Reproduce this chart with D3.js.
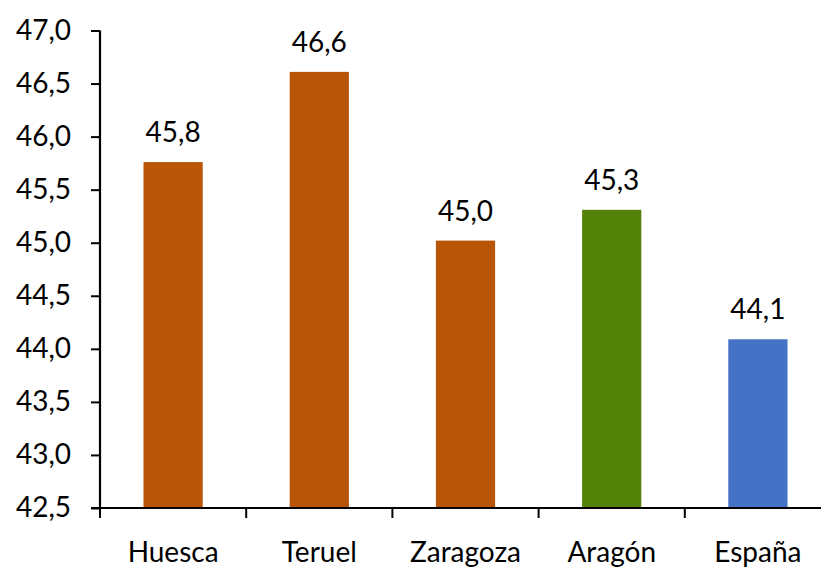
<!DOCTYPE html>
<html>
<head>
<meta charset="utf-8">
<script src="https://cdn.jsdelivr.net/npm/d3@7"></script>
<style>
  body { margin: 0; background: #fff; }
  svg text { font-family: Lato, "Open Sans", sans-serif; fill: #000; }
</style>
</head>
<body>
<div id="chart"></div>
<script>
// data
var categories = ["Huesca", "Teruel", "Zaragoza", "Aragón", "España"];
var values = [45.76, 46.61, 45.02, 45.31, 44.09];
var labels = ["45,8", "46,6", "45,0", "45,3", "44,1"];
var barColors = ["#B85506", "#B85506", "#B85506", "#548209", "#4472C4"];
var yTicks = [42.5, 43, 43.5, 44, 44.5, 45, 45.5, 46, 46.5, 47];

var width = 821, height = 568;
var margin = {top: 30.5, right: -10, bottom: 60, left: 100};

var svg = d3.select("#chart").append("svg")
  .attr("width", width)
  .attr("height", height);

var x = d3.scaleBand()
  .domain(categories)
  .range([margin.left, width - margin.right])
  .paddingInner(0.595)
  .paddingOuter(0.2975);

var y = d3.scaleLinear()
  .domain([42.5, 47])
  .range([height - margin.bottom, margin.top]);

var fmt = function(d) { return d3.format(".1f")(d).replace(".", ","); };

// bars
svg.selectAll("rect.bar")
  .data(categories)
  .enter()
  .append("rect")
  .attr("class", "bar")
  .attr("x", d => x(d))
  .attr("width", x.bandwidth())
  .attr("y", (d, i) => y(values[i]))
  .attr("height", (d, i) => y(42.5) - y(values[i]))
  .style("fill", (d, i) => barColors[i]);

// value labels
svg.selectAll("text.val")
  .data(categories)
  .enter()
  .append("text")
  .attr("class", "val")
  .attr("x", d => x(d) + x.bandwidth() / 2)
  .attr("y", (d, i) => y(values[i]) - 20)
  .attr("text-anchor", "middle")
  .style("font-size", "28px")
  .text((d, i) => labels[i]);

// y axis
var yAxis = svg.append("g")
  .attr("transform", "translate(" + margin.left + ",0)")
  .call(d3.axisLeft(y).tickValues(yTicks).tickFormat(fmt).tickSize(9).tickPadding(20));

// x axis
var xAxis = svg.append("g")
  .attr("transform", "translate(0," + y(42.5) + ")")
  .call(d3.axisBottom(x).tickSize(0).tickPadding(34));

// category boundary ticks like excel
var bounds = categories.map(d => x(d) - x.step() * x.paddingInner() / 2);
bounds.push(width - margin.right);
svg.selectAll("line.xtick")
  .data(bounds)
  .enter()
  .append("line")
  .attr("class", "xtick")
  .attr("x1", d => d).attr("x2", d => d)
  .attr("y1", y(42.5)).attr("y2", y(42.5) + 10)
  .style("stroke", "#000")
  .style("stroke-width", 2);

[yAxis, xAxis].forEach(function(g) {
  g.selectAll("path.domain").style("stroke", "#000").style("stroke-width", 2.2);
  g.selectAll(".tick line").style("stroke", "#000").style("stroke-width", 2);
  g.selectAll(".tick text").style("font-family", "Lato, 'Open Sans', sans-serif").style("font-size", "28px").style("fill", "#000");
});
yAxis.select("path.domain").attr("d", "M0," + y(47) + "V" + y(42.5));
xAxis.select("path.domain").attr("d", "M" + (margin.left - 9) + ",0H" + (width - margin.right));
</script>
</body>
</html>
